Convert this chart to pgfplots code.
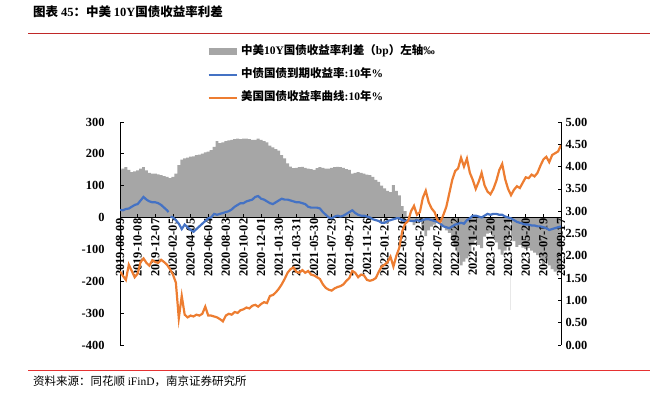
\documentclass[border=0pt]{standalone}
\usepackage{fontspec}
\setmainfont{Liberation Serif}
\newfontfamily\cjk{Noto Sans CJK SC}
\usepackage{pgfplots}
\usepackage{pgfplotstable}
\pgfplotsset{compat=1.18}
\definecolor{barGray}{RGB}{166,166,166}
\definecolor{cnBlue}{RGB}{68,114,196}
\definecolor{usOrange}{RGB}{237,125,49}
\definecolor{topRed}{RGB}{192,40,40}
\definecolor{botRed}{RGB}{230,50,50}
\newcommand\tickfont{\fontsize{12.4}{14}\selectfont\bfseries}
\newcommand\legfont{\fontsize{11.5}{13}\selectfont\bfseries}

\pgfplotstableread{
day spread
0 150
10 154
20 158
30 150
40 143
50 145
60 148
70 154
80 158
90 148
100 140
110 138
120 138
130 136
140 133
150 130
160 128
170 124
180 128
190 138
200 165
210 182
220 186
230 188
240 191
250 192
260 196
270 198
280 201
290 205
300 207
310 212
320 222
330 240
340 234
350 236
360 240
370 242
380 244
390 246
400 248
410 246
420 248
430 248
440 246
450 244
460 244
470 248
480 244
490 240
500 236
510 226
520 220
530 215
540 210
550 196
560 186
570 170
580 160
590 155
600 156
610 158
620 159
630 156
640 154
650 152
660 150
670 155
680 158
690 156
700 154
710 154
720 156
730 158
740 159
750 158
760 156
770 152
780 150
790 138
800 140
810 143
820 140
830 138
840 135
850 133
860 128
870 118
880 112
890 100
900 92
910 84
920 80
930 102
940 84
950 70
960 36
970 20
980 4
990 -12
1000 -24
1010 -8
1020 -14
1030 -40
1040 -58
1050 -40
1060 -28
1070 -22
1080 -10
1090 -12
1100 -28
1110 -40
1120 -48
1130 -70
1140 -90
1150 -118
1160 -150
1170 -138
1180 -128
1190 -110
1200 -84
1210 -72
1220 -86
1230 -96
1240 -60
1250 -50
1260 -48
1270 -58
1280 -78
1290 -100
1300 -116
1310 -104
1320 -70
1330 -58
1340 -74
1350 -92
1360 -86
1370 -94
1380 -98
1390 -96
1400 -104
1410 -110
1420 -118
1430 -126
1440 -150
1450 -134
1460 -150
1470 -162
1480 -170
1490 -166
1500 -160
}\spreadtab

\pgfplotstableread{
day cn
0 3.03
10 3.02
20 3.05
30 3.06
40 3.10
50 3.14
60 3.16
70 3.24
80 3.32
90 3.26
100 3.22
110 3.20
120 3.20
130 3.18
140 3.14
150 3.08
160 3.02
165 2.98
168 nan
172 2.88
180 2.86
190 2.80
200 2.72
210 2.60
220 2.70
230 2.64
240 2.58
250 2.54
260 2.60
270 2.66
280 2.72
290 2.78
300 2.84
310 2.86
320 2.94
330 2.92
340 2.94
350 2.96
360 2.98
370 3.00
380 3.04
390 3.10
400 3.14
410 3.18
420 3.18
430 3.22
440 3.24
450 3.26
460 3.32
470 3.34
480 3.28
490 3.26
500 3.22
510 3.18
520 3.16
530 3.20
540 3.24
550 3.28
560 3.26
570 3.26
580 3.24
590 3.22
600 3.20
610 3.20
620 3.18
630 3.16
640 3.10
650 3.08
660 3.08
670 3.08
680 3.06
690 2.98
700 2.92
710 2.86
720 2.84
730 2.88
740 2.90
750 2.88
760 2.90
770 2.94
780 2.98
790 3.02
800 2.96
810 2.92
820 2.90
830 2.90
840 2.88
850 2.86
860 2.82
870 2.80
880 2.78
890 2.74
900 2.74
910 2.78
920 2.80
930 2.82
940 2.84
950 2.84
960 2.80
970 2.78
980 2.80
990 2.78
1000 2.78
1010 2.80
1020 2.78
1030 2.80
1040 2.82
1050 2.82
1060 2.80
1070 2.78
1080 2.76
1090 2.72
1100 2.66
1110 2.64
1120 2.62
1130 2.66
1140 2.70
1150 2.72
1160 2.74
1170 2.72
1180 2.80
1190 2.84
1200 2.90
1210 2.90
1220 2.88
1230 2.86
1240 2.90
1250 2.94
1260 2.92
1270 2.94
1280 2.94
1290 2.92
1300 2.92
1310 2.88
1320 2.86
1330 2.84
1340 2.80
1350 2.76
1360 2.74
1370 2.72
1380 2.70
1390 2.70
1400 2.68
1410 2.68
1420 2.66
1430 2.66
1440 2.64
1450 2.62
1460 2.58
1470 2.60
1480 2.62
1490 2.64
1500 2.66
}\cntab

\pgfplotstableread{
day us
0 1.65
10 1.55
20 1.46
30 1.80
40 1.66
50 1.52
60 1.60
70 1.86
80 1.94
90 1.84
100 1.78
110 1.90
120 1.86
130 1.84
140 1.91
150 1.86
160 1.80
170 1.70
180 1.58
190 1.40
200 0.60
210 1.10
220 0.68
230 0.62
240 0.66
250 0.64
260 0.68
270 0.66
280 0.70
290 0.86
300 0.66
310 0.66
320 0.64
330 0.62
340 0.58
350 0.53
360 0.66
370 0.70
380 0.68
390 0.74
400 0.72
410 0.78
420 0.80
430 0.84
440 0.82
450 0.88
460 0.90
470 0.86
480 0.92
490 0.96
500 0.94
510 1.10
520 1.12
530 1.18
540 1.26
550 1.36
560 1.48
570 1.62
580 1.70
590 1.74
600 1.64
610 1.62
620 1.68
630 1.62
640 1.66
650 1.58
660 1.56
670 1.52
680 1.48
690 1.36
700 1.28
710 1.24
720 1.22
730 1.27
740 1.30
750 1.32
760 1.36
770 1.44
780 1.50
790 1.66
800 1.62
810 1.52
820 1.58
830 1.56
840 1.46
850 1.44
860 1.46
870 1.50
880 1.64
890 1.76
900 1.80
910 1.86
920 1.98
930 1.76
940 2.00
950 2.18
960 2.55
970 2.72
980 2.78
990 3.00
1000 3.12
1010 2.92
1020 2.98
1030 3.30
1040 3.46
1050 3.20
1060 3.06
1070 2.98
1080 2.80
1090 2.76
1100 2.92
1110 3.10
1120 3.40
1130 3.70
1140 3.90
1150 3.96
1160 4.20
1170 4.00
1180 4.18
1190 3.86
1200 3.70
1210 3.50
1220 3.66
1230 3.86
1240 3.58
1250 3.44
1260 3.38
1270 3.50
1280 3.68
1290 3.92
1300 4.06
1310 3.72
1320 3.50
1330 3.36
1340 3.48
1350 3.56
1360 3.52
1370 3.64
1380 3.76
1390 3.74
1400 3.82
1410 3.78
1420 3.86
1430 4.02
1440 4.16
1450 4.22
1460 4.10
1470 4.26
1480 4.30
1490 4.34
1500 4.48
}\ustab

\begin{document}
\begin{tikzpicture}
\path[use as bounding box] (0pt,0pt) rectangle (650pt,392pt);

\begin{axis}[
  at={(120pt,47pt)}, anchor=south west,
  scale only axis, width=441pt, height=223pt,
  xmin=0, xmax=1500, ymin=-400, ymax=300,
  axis on top,
  axis x line=middle, axis y line=left,
  axis line style={-, line width=0.9pt, black},
  hide obscured x ticks=false,
  xtick={0,60,...,1500},
  xticklabels={2019-08-09,2019-10-08,2019-12-07,2020-02-05,2020-04-05,2020-06-04,2020-08-03,2020-10-02,2020-12-01,2021-01-30,2021-03-31,2021-05-30,2021-07-29,2021-09-27,2021-11-26,2022-01-25,2022-03-26,2022-05-25,2022-07-24,2022-09-22,2022-11-21,2023-01-20,2023-03-21,2023-05-20,2023-07-19,2023-09-17},
  ytick={-400,-300,-200,-100,0,100,200,300},
  tick align=inside, major tick length=3.5pt,
  tick style={line width=0.8pt, black},
  x tick label style={rotate=90, anchor=east, inner sep=1pt, font=\tickfont},
  y tick label style={font=\tickfont, xshift=-12pt},
  /pgf/number format/assume math mode=true,
]
\addplot[ybar, bar width=10, fill=barGray, draw=none] table[x=day, y=spread] {\spreadtab};
\addplot[ybar, bar width=2, fill=gray!18, draw=none] coordinates {(1328,-290)};
\end{axis}

\begin{axis}[
  at={(120pt,47pt)}, anchor=south west,
  scale only axis, width=441pt, height=223pt,
  xmin=0, xmax=1500, ymin=0, ymax=5,
  axis x line=none, axis y line=right,
  axis line style={-, line width=0.9pt, black},
  ytick={0,0.5,1,1.5,2,2.5,3,3.5,4,4.5,5},
  tick align=inside, major tick length=3.5pt,
  tick style={line width=0.8pt, black},
  y tick label style={font=\tickfont, xshift=1pt},
  yticklabel style={/pgf/number format/fixed, /pgf/number format/fixed zerofill, /pgf/number format/precision=2},
  /pgf/number format/assume math mode=true,
  unbounded coords=jump,
  legend style={at={(axis description cs:0.1927,1.3466)}, anchor=north west,
    draw=none, fill=none, inner sep=0pt, row sep=9pt,
    nodes={inner sep=1pt, text height=9pt, text depth=3pt, font=\legfont}},
  legend cell align=left,
  legend image code/.code={\draw[#1] (0pt,0pt) -- (28pt,0pt);},
]
\addlegendimage{line width=7pt, barGray}
\addlegendentry{{\cjk 中美}10Y{\cjk 国债收益率利差（}bp{\cjk ）左轴}‰}
\addplot[cnBlue, line width=2.2pt] table[x=day, y=cn] {\cntab};
\addlegendentry{{\cjk 中债国债到期收益率}:10{\cjk 年}\%}
\addplot[usOrange, line width=2.2pt] table[x=day, y=us] {\ustab};
\addlegendentry{{\cjk 美国国债收益率曲线}:10{\cjk 年}\%}
\end{axis}

\node[anchor=west, inner sep=0pt] at (33pt,380pt) {\fontsize{12.5}{14}\selectfont\bfseries{\cjk 图表 }45{\cjk ：中美 }10Y{\cjk 国债收益率利差}};
\draw[topRed, line width=0.8pt] (28pt,359pt) -- (650pt,359pt);
\draw[botRed, line width=1pt] (28pt,22pt) -- (650pt,22pt);
\node[anchor=west, inner sep=0pt] at (33pt,11pt) {\fontsize{11.5}{13}\selectfont{\cjk 资料来源：同花顺 }iFinD{\cjk ，南京证券研究所}};
\end{tikzpicture}
\end{document}
